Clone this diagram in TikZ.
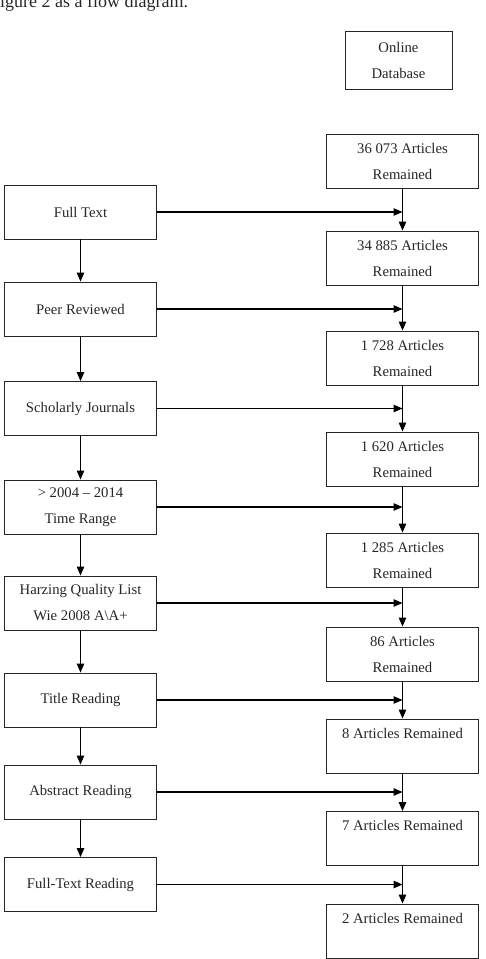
\documentclass[tikz,border=0pt]{standalone}
\usepackage{fontspec}
\setmainfont{Liberation Serif}
\usetikzlibrary{arrows.meta}
\begin{document}
\begin{tikzpicture}[x=1pt,y=-1pt,
  box/.style={draw=black!85, line width=0.9pt, minimum width=152pt, minimum height=54pt,
    inner sep=0pt, align=center, font=\fontsize{14.7}{26}\selectfont, text=black!85},
  arr/.style={draw=black, line width=1.1pt, -{Triangle[length=9pt,width=7.5pt]}}]
\useasboundingbox (0,0) rectangle (486,959);
\node[anchor=base west, inner sep=0pt, font=\fontsize{18}{20}\selectfont, text=black!85] (cap) at (0,7) {igure 2 as a flow diagram.};
\node[box, minimum width=107pt, minimum height=58pt] (db) at (398.5,60) {Online\\Database};
% left column
\node[box] (l1) at (80.5,212) {Full Text};
\node[box] (l2) at (80.5,309) {Peer Reviewed};
\node[box] (l3) at (80.5,408.5) {Scholarly Journals};
\node[box] (l4) at (80.5,507) {> 2004 \textendash{} 2014\\Time Range};
\node[box] (l5) at (80.5,603) {Harzing Quality List\\Wie 2008 A\textbackslash A+};
\node[box] (l6) at (80.5,700) {Title Reading};
\node[box] (l7) at (80.5,792) {Abstract Reading};
\node[box] (l8) at (80.5,884.5) {Full-Text Reading};
% right column
\node[box] (r0) at (402.5,161.5) {36 073 Articles\\Remained};
\node[box] (r1) at (402.5,258) {34 885 Articles\\Remained};
\node[box] (r2) at (402.5,358) {1 728 Articles\\Remained};
\node[box] (r3) at (402.5,459) {1 620 Articles\\Remained};
\node[box] (r4) at (402.5,560) {1 285 Articles\\Remained};
\node[box] (r5) at (402.5,654) {86 Articles\\Remained};
\node[box] (r6) at (402.5,746) {8 Articles Remained\\\mbox{}};
\node[box] (r7) at (402.5,838.5) {7 Articles Remained\\\mbox{}};
\node[box] (r8) at (402.5,931) {2 Articles Remained\\\mbox{}};
% left vertical arrows
\foreach \a/\b in {l1/l2,l2/l3,l3/l4,l4/l5,l5/l6,l6/l7,l7/l8}
  \draw[arr] (\a.south) -- (\b.north);
% right vertical arrows
\foreach \a/\b in {r0/r1,r1/r2,r2/r3,r3/r4,r4/r5,r5/r6,r6/r7,r7/r8}
  \draw[arr] (\a.south) -- (\b.north);
% horizontal arrows
\foreach \a/\b in {l1/r0,l2/r1,l3/r2,l4/r3,l5/r4,l6/r5,l7/r6,l8/r7}
  \draw[arr] (\a.east) -- (\a.east -| \b.south);
\end{tikzpicture}
\end{document}
